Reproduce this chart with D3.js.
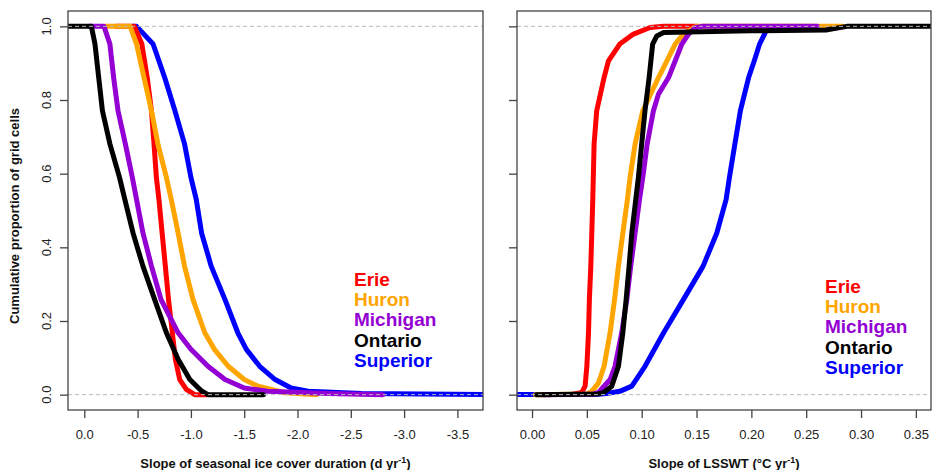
<!DOCTYPE html>
<html>
<head>
<meta charset="utf-8">
<script src="https://cdn.jsdelivr.net/npm/d3@7"></script>
<style>
    body { margin: 0; background: #fff; }
    svg { display: block; font-family: "Liberation Sans", Arial, sans-serif; }
</style>
</head>
<body>
<div id="chart"></div>
<script>
const lakes = ["Erie", "Huron", "Michigan", "Ontario", "Superior"];
const lakeColors = ["#ff0000", "#ffa500", "#9400d3", "#000000", "#0000ff"];

// [slope, cumulative proportion]
const iceErie = [[-0.3,1],[-0.47,1],[-0.54,0.952],[-0.59,0.861],[-0.63,0.771],[-0.654,0.681],[-0.676,0.59],[-0.70,0.53],[-0.73,0.439],[-0.76,0.349],[-0.79,0.258],[-0.826,0.168],[-0.854,0.096],[-0.895,0.041],[-0.957,0.014],[-1.035,0],[-1.15,0]];
const iceHuron = [[-0.19,1],[-0.43,1],[-0.49,0.952],[-0.56,0.861],[-0.63,0.771],[-0.69,0.681],[-0.77,0.59],[-0.816,0.53],[-0.88,0.439],[-0.94,0.349],[-1.02,0.258],[-1.13,0.168],[-1.22,0.123],[-1.35,0.077],[-1.50,0.041],[-1.63,0.023],[-1.88,0.005],[-2.18,0]];
const iceMichigan = [[-0.05,1],[-0.185,1],[-0.24,0.952],[-0.275,0.861],[-0.316,0.771],[-0.385,0.681],[-0.45,0.59],[-0.49,0.53],[-0.55,0.439],[-0.63,0.349],[-0.72,0.258],[-0.88,0.168],[-1.00,0.123],[-1.16,0.077],[-1.32,0.041],[-1.50,0.018],[-1.72,0.009],[-2.29,0.003],[-2.80,0]];
const iceOntario = [[0.2,1],[-0.066,1],[-0.10,0.952],[-0.135,0.861],[-0.17,0.771],[-0.24,0.681],[-0.33,0.59],[-0.38,0.53],[-0.457,0.439],[-0.55,0.349],[-0.66,0.258],[-0.77,0.168],[-0.88,0.096],[-0.99,0.041],[-1.10,0.01],[-1.16,0],[-1.68,0]];
const iceSuperior = [[-0.46,1],[-0.49,1],[-0.645,0.952],[-0.754,0.861],[-0.85,0.771],[-0.94,0.681],[-1.00,0.59],[-1.05,0.53],[-1.10,0.439],[-1.19,0.349],[-1.32,0.258],[-1.44,0.168],[-1.52,0.123],[-1.645,0.077],[-1.79,0.041],[-1.94,0.018],[-2.10,0.009],[-2.6,0.003],[-3.9,0]];

const lsswtErie = [[0.035,0],[0.0454,0.006],[0.0484,0.023],[0.050,0.077],[0.0515,0.168],[0.0523,0.258],[0.0536,0.349],[0.0545,0.439],[0.0554,0.53],[0.0566,0.681],[0.059,0.771],[0.0657,0.861],[0.0697,0.906],[0.080,0.952],[0.0925,0.979],[0.1077,0.997],[0.12,1],[0.15,1]];
const lsswtHuron = [[0.003,0],[0.05,0.002],[0.0545,0.009],[0.0606,0.032],[0.0657,0.077],[0.0712,0.168],[0.0752,0.258],[0.0788,0.349],[0.0828,0.439],[0.087,0.53],[0.0894,0.59],[0.094,0.681],[0.101,0.771],[0.1153,0.861],[0.123,0.906],[0.1305,0.952],[0.138,0.979],[0.143,0.988],[0.15,1],[0.283,1]];
const lsswtMichigan = [[0.01,0],[0.055,0.001],[0.0606,0.006],[0.0712,0.041],[0.0757,0.077],[0.0818,0.168],[0.0864,0.258],[0.090,0.349],[0.094,0.439],[0.098,0.53],[0.101,0.59],[0.105,0.681],[0.1107,0.771],[0.1153,0.816],[0.1245,0.861],[0.1305,0.906],[0.1366,0.952],[0.1427,0.979],[0.149,0.997],[0.155,1],[0.26,1]];
const lsswtOntario = [[0.004,0],[0.06,0.002],[0.065,0.005],[0.0727,0.023],[0.0788,0.077],[0.0828,0.168],[0.0858,0.258],[0.0885,0.349],[0.091,0.439],[0.0946,0.53],[0.097,0.59],[0.100,0.681],[0.103,0.771],[0.1068,0.861],[0.110,0.952],[0.1138,0.974],[0.120,0.983],[0.199,0.988],[0.268,0.99],[0.287,1],[0.40,1]];
const lsswtSuperior = [[-0.03,0],[0.06,0.001],[0.068,0.003],[0.080,0.009],[0.091,0.023],[0.103,0.077],[0.12,0.168],[0.138,0.258],[0.156,0.349],[0.1685,0.439],[0.177,0.53],[0.180,0.59],[0.185,0.681],[0.190,0.771],[0.1975,0.861],[0.2026,0.906],[0.2075,0.952],[0.2135,0.988],[0.22,0.99]];

const yTicks = [0, 0.2, 0.4, 0.6, 0.8, 1.0];
const iceTicks = [0, -0.5, -1.0, -1.5, -2.0, -2.5, -3.0, -3.5];
const lsswtTicks = [0, 0.05, 0.10, 0.15, 0.20, 0.25, 0.30, 0.35];

const width = 932, height = 470;
const plotTop = 11, plotBottom = 410;

const svg = d3.select("#chart").append("svg")
              .attr("width", width)
              .attr("height", height);

const y = d3.scaleLinear()
            .domain([-0.0417, 1.0417])
            .range([plotBottom, plotTop]);

// draw order: Superior underneath, Ontario on top
const drawOrder = [4, 0, 1, 2, 3];

const drawPanel = (opts) => {
    const { left, right, xDomain, ticks, fmt, series, yLabels, title, sup, titleEnd, legendX, legendY, id } = opts;

    const x = d3.scaleLinear()
                .domain(xDomain)
                .range([left, right]);

    svg.append("clipPath")
       .attr("id", id)
       .append("rect")
       .attr("x", left)
       .attr("y", plotTop)
       .attr("width", right - left)
       .attr("height", plotBottom - plotTop);

    const g = svg.append("g")
                 .attr("clip-path", `url(#${id})`);

    const line = d3.line()
                   .x(d => x(d[0]))
                   .y(d => y(d[1]));

    drawOrder.forEach(i => {
        g.append("path")
         .attr("d", line(series[i]))
         .attr("fill", "none")
         .attr("stroke", lakeColors[i])
         .attr("stroke-width", 5)
         .attr("stroke-linejoin", "round")
         .attr("stroke-linecap", "round");
    });

    [0, 1].forEach(v => {
        g.append("line")
         .attr("x1", left)
         .attr("x2", right)
         .attr("y1", y(v))
         .attr("y2", y(v))
         .attr("stroke", "#b8b8b8")
         .attr("stroke-width", 1)
         .attr("stroke-dasharray", "4,3");
    });

    svg.append("rect")
       .attr("x", left)
       .attr("y", plotTop)
       .attr("width", right - left)
       .attr("height", plotBottom - plotTop)
       .attr("fill", "none")
       .attr("stroke", "#444")
       .attr("stroke-width", 1.3);

    const xAxis = svg.append("g")
                     .attr("transform", `translate(0,${plotBottom})`)
                     .call(d3.axisBottom(x).tickValues(ticks).tickFormat(fmt).tickSize(8).tickPadding(12));
    xAxis.select(".domain").remove();
    xAxis.selectAll("line").attr("stroke", "#444").attr("stroke-width", 1.3);
    xAxis.selectAll("text")
         .attr("font-family", "Liberation Sans, Arial, sans-serif")
         .style("font-size", "13px")
         .attr("fill", "#222");

    const yAxis = svg.append("g")
                     .attr("transform", `translate(${left},0)`)
                     .call(d3.axisLeft(y).tickValues(yTicks).tickSize(8).tickFormat(""));
    yAxis.select(".domain").remove();
    yAxis.selectAll("line").attr("stroke", "#444").attr("stroke-width", 1.3);

    if (yLabels) {
        svg.selectAll(".ylab")
           .data(yTicks)
           .enter().append("text")
           .attr("transform", d => `translate(51,${y(d)}) rotate(-90)`)
           .attr("text-anchor", "middle")
           .style("font-size", "13px")
           .attr("fill", "#222")
           .text(d => d.toFixed(1));
    }

    const t = svg.append("text")
                 .attr("x", (left + right) / 2)
                 .attr("y", 468)
                 .attr("text-anchor", "middle")
                 .style("font-size", "13px")
                 .style("font-weight", "bold")
                 .attr("fill", "#111");
    t.append("tspan").text(title);
    t.append("tspan").attr("dy", -5).style("font-size", "9px").text(sup);
    t.append("tspan").attr("dy", 5).text(titleEnd);

    lakes.forEach((name, i) => {
        svg.append("text")
           .attr("x", legendX)
           .attr("y", legendY + i * 20.2)
           .style("font-size", "19px")
           .style("font-weight", "bold")
           .attr("fill", lakeColors[i])
           .text(name);
    });
};

drawPanel({
    id: "clip-ice",
    left: 68, right: 483,
    xDomain: [0.153, -3.74],
    ticks: iceTicks,
    fmt: d => d.toFixed(1),
    series: [iceErie, iceHuron, iceMichigan, iceOntario, iceSuperior],
    yLabels: true,
    title: "Slope of seasonal ice cover duration (d yr",
    sup: "-1",
    titleEnd: ")",
    legendX: 354,
    legendY: 286
});

drawPanel({
    id: "clip-lsswt",
    left: 517, right: 931,
    xDomain: [-0.0137, 0.3638],
    ticks: lsswtTicks,
    fmt: d => d.toFixed(2),
    series: [lsswtErie, lsswtHuron, lsswtMichigan, lsswtOntario, lsswtSuperior],
    yLabels: false,
    title: "Slope of LSSWT (\u00B0C yr",
    sup: "-1",
    titleEnd: ")",
    legendX: 825,
    legendY: 293
});

svg.append("text")
   .attr("transform", "translate(18.5,216) rotate(-90)")
   .attr("text-anchor", "middle")
   .style("font-size", "13px")
   .style("font-weight", "bold")
   .attr("fill", "#111")
   .text("Cumulative proportion of grid cells");
</script>
</body>
</html>
